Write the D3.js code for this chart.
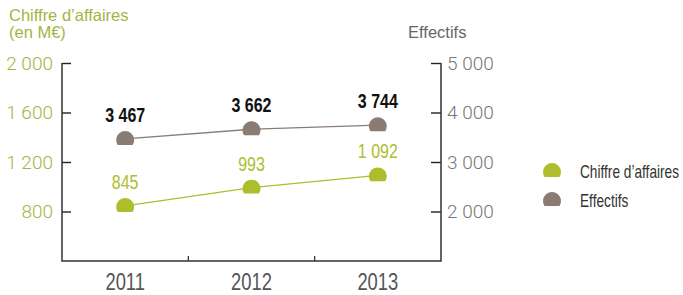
<!DOCTYPE html>
<html>
<head>
<meta charset="utf-8">
<script src="https://cdn.jsdelivr.net/npm/d3@7"></script>
<style>
  body { margin: 0; background: #fff; }
  svg { display: block; }
</style>
</head>
<body>
<div id="chart"></div>
<script>
const years = ["2011", "2012", "2013"];
const caValues = [845, 993, 1092];
const effValues = [3467, 3662, 3744];
const leftTicks = [800, 1200, 1600, 2000];
const rightTicks = [2000, 3000, 4000, 5000];
const legendLabels = ["Chiffre d\u2019affaires", "Effectifs"];

const green = "#aebd2c";
const brown = "#8a7c72";
const axisGreen = "#a5b342";
const sans = "'Liberation Sans', Arial, sans-serif";
const squeeze = 0.8; // fake a condensed face

const width = 683, height = 295;
const margin = { left: 62, right: 242, top: 63, bottom: 34 };
const plotW = width - margin.left - margin.right;
const plotH = height - margin.top - margin.bottom;

const fmt = (v) => d3.format(",d")(v).replace(",", " ");

const svg = d3
  .select("#chart")
  .append("svg")
  .attr("width", width)
  .attr("height", height);

const g = svg
  .append("g")
  .attr("transform", "translate(" + margin.left + "," + margin.top + ")");

const xScale = d3.scaleBand().domain(years).range([0, plotW]).padding(0);
const yLeft = d3.scaleLinear().domain([400, 2000]).range([plotH, 0]);
const yRight = d3.scaleLinear().domain([1000, 5000]).range([plotH, 0]);
const cx = (d) => xScale(d) + xScale.bandwidth() / 2;

// left axis
const leftAxis = d3.axisRight(yLeft).tickValues(leftTicks).tickSize(9).tickFormat(fmt);
const gl = g.append("g").attr("class", "leftAxis").call(leftAxis);
gl.select(".domain").remove();
gl.selectAll("line").attr("stroke", "#222").attr("stroke-width", 1.4);
gl.selectAll("text")
  .attr("x", -9)
  .attr("text-anchor", "end")
  .attr("fill", axisGreen)
  .style("font-family", "Roboto, 'Liberation Sans', sans-serif")
  .style("font-weight", 300)
  .style("font-size", "19px");

// right axis
const rightAxis = d3.axisLeft(yRight).tickValues(rightTicks).tickSize(10).tickFormat(fmt);
const gr = g.append("g").attr("class", "rightAxis").attr("transform", "translate(" + plotW + ",0)").call(rightAxis);
gr.select(".domain").remove();
gr.selectAll("line").attr("stroke", "#222").attr("stroke-width", 1.4);
gr.selectAll("text")
  .attr("x", 6)
  .attr("text-anchor", "start")
  .attr("fill", "#777")
  .style("font-family", "Roboto, 'Liberation Sans', sans-serif")
  .style("font-weight", 300)
  .style("font-size", "19px");

// frame lines
g.append("path")
  .attr("d", "M0,0V" + plotH + "H" + plotW + "V0")
  .attr("fill", "none")
  .attr("stroke", "#333")
  .attr("stroke-width", 1.5);

// bottom axis labels
const bottomAxis = d3.axisBottom(xScale).tickSize(0).tickPadding(13);
const gb = g.append("g").attr("transform", "translate(0," + plotH + ")").call(bottomAxis);
gb.select(".domain").remove();
gb.selectAll("text")
  .attr("fill", "#555")
  .attr("transform", "scale(" + squeeze + ",1)")
  .style("font-family", sans)
  .style("font-size", "23px");

// band separator ticks
g.selectAll(".sep")
  .data(years.slice(1))
  .enter()
  .append("line")
  .attr("x1", (d) => xScale(d))
  .attr("x2", (d) => xScale(d))
  .attr("y1", plotH)
  .attr("y2", plotH - 5)
  .attr("stroke", "#333")
  .attr("stroke-width", 1.3);

// dome marker
const dome = "M-7.5,5A9,9 0 1 1 7.5,5Z";

function drawSeries(values, yScale, color, labelColor, bold) {
  const data = years.map((y, i) => ({ year: y, value: values[i] }));
  g.append("path")
    .datum(data)
    .attr("fill", "none")
    .attr("stroke", color)
    .attr("stroke-width", 1.4)
    .attr("d", d3.line().x((d) => cx(d.year)).y((d) => yScale(d.value)));

  g.selectAll(null)
    .data(data)
    .enter()
    .append("path")
    .attr("d", dome)
    .attr("fill", color)
    .attr("transform", (d) => "translate(" + cx(d.year) + "," + (yScale(d.value) + 1) + ")");

  g.selectAll(null)
    .data(data)
    .enter()
    .append("text")
    .attr("transform", (d) => "translate(" + cx(d.year) + "," + (yScale(d.value) - 17) + ") scale(" + squeeze + ",1)")
    .attr("text-anchor", "middle")
    .attr("fill", labelColor)
    .style("font-family", sans)
    .style("font-weight", bold ? "bold" : "normal")
    .style("font-size", "20px")
    .text((d) => fmt(d.value));
}

drawSeries(effValues, yRight, brown, "#111", true);
drawSeries(caValues, yLeft, green, green, false);

// axis titles
svg.append("text")
  .attr("x", 9)
  .attr("y", 21)
  .attr("fill", axisGreen)
  .style("font-family", sans)
  .style("font-size", "16.5px")
  .text("Chiffre d\u2019affaires");
svg.append("text")
  .attr("x", 9)
  .attr("y", 38)
  .attr("fill", axisGreen)
  .style("font-family", sans)
  .style("font-size", "16.5px")
  .text("(en M\u20ac)");
svg.append("text")
  .attr("x", 408)
  .attr("y", 38)
  .attr("fill", "#666")
  .style("font-family", sans)
  .style("font-size", "16.5px")
  .text("Effectifs");

// legend
const legend = svg.append("g").attr("transform", "translate(552,170)");
const legendColors = [green, brown];
legendLabels.forEach((label, i) => {
  const row = legend.append("g").attr("transform", "translate(0," + i * 29 + ")");
  row.append("path").attr("d", dome).attr("fill", legendColors[i]).attr("transform", "translate(0,2)");
  row.append("text")
    .attr("transform", "translate(28,8) scale(0.76,1)")
    .attr("fill", "#333")
    .style("font-family", sans)
    .style("font-size", "18px")
    .text(label);
});
</script>
</body>
</html>
